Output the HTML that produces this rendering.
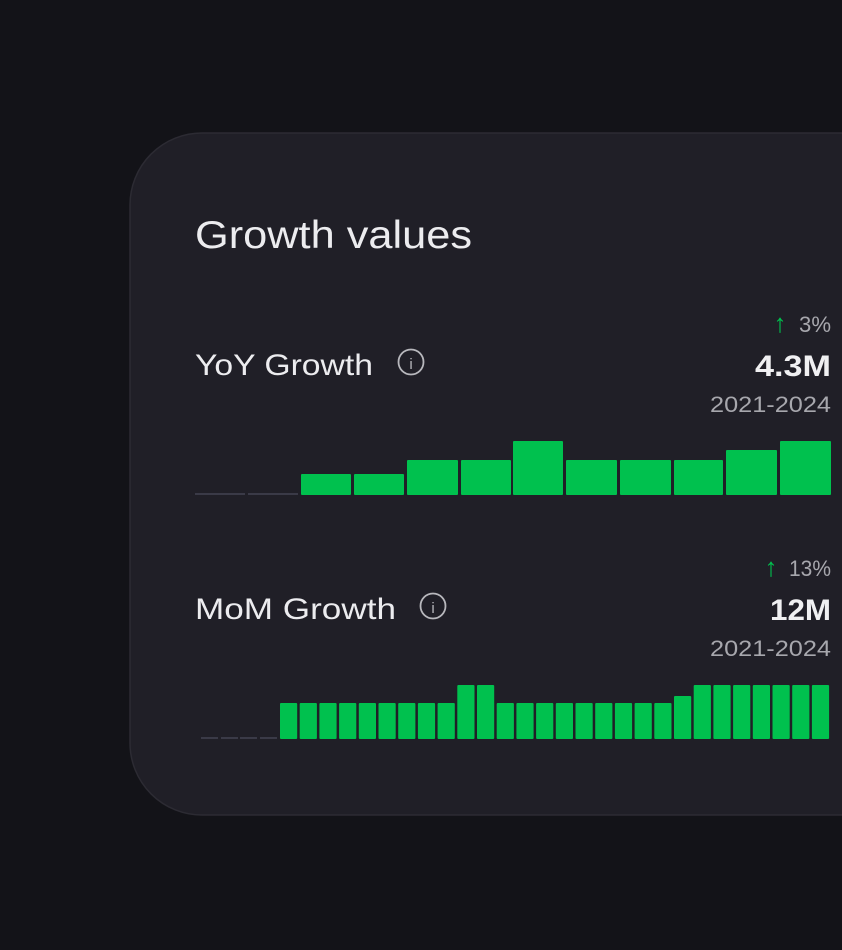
<!DOCTYPE html>
<html><head><style>
html,body{margin:0;padding:0;background:#131318;}
svg{display:block;}
text{font-family:"Liberation Sans",sans-serif;}
</style></head><body>
<svg width="842" height="950" viewBox="0 0 842 950" xmlns="http://www.w3.org/2000/svg">
<rect width="842" height="950" fill="#131318"/>
<rect x="130" y="133" width="800" height="682" rx="72" fill="#201f27" stroke="#2c2b33" stroke-width="1.5"/>
<text x="195" y="248" font-size="39" fill="#ececef" textLength="277" lengthAdjust="spacingAndGlyphs">Growth values</text>

<text x="195" y="375" font-size="30" fill="#ececef" textLength="178" lengthAdjust="spacingAndGlyphs">YoY Growth</text>
<circle cx="411" cy="362" r="12.5" fill="none" stroke="#b8b8bd" stroke-width="1.8"/>
<text x="411" y="369" font-size="15" fill="#b8b8bd" text-anchor="middle" font-family="Liberation Serif">i</text>
<text x="799" y="332" font-size="22" fill="#a7a7ad" textLength="32" lengthAdjust="spacingAndGlyphs">3%</text>
<text x="780" y="332" font-size="26" fill="#00c14e" text-anchor="middle">↑</text>
<text x="755" y="376" font-size="30" font-weight="bold" fill="#f0f0f2" textLength="76" lengthAdjust="spacingAndGlyphs">4.3M</text>
<text x="710" y="412" font-size="22" fill="#a7a7ad" textLength="121" lengthAdjust="spacingAndGlyphs">2021-2024</text>
<g fill="#3a3a47"><rect x="195" y="493" width="50" height="2"/><rect x="248" y="493" width="50" height="2"/></g>
<g fill="#00c14e">
<rect x="301" y="474" width="50" height="21" rx="1"/>
<rect x="354" y="474" width="50" height="21" rx="1"/>
<rect x="407" y="460" width="51" height="35" rx="1"/>
<rect x="461" y="460" width="50" height="35" rx="1"/>
<rect x="513" y="441" width="50" height="54" rx="1"/>
<rect x="566" y="460" width="51" height="35" rx="1"/>
<rect x="620" y="460" width="51" height="35" rx="1"/>
<rect x="674" y="460" width="49" height="35" rx="1"/>
<rect x="726" y="450" width="51" height="45" rx="1"/>
<rect x="780" y="441" width="51" height="54" rx="1"/>
</g>

<text x="195" y="619" font-size="30" fill="#ececef" textLength="201" lengthAdjust="spacingAndGlyphs">MoM Growth</text>
<circle cx="433" cy="606" r="12.5" fill="none" stroke="#b8b8bd" stroke-width="1.8"/>
<text x="433" y="613" font-size="15" fill="#b8b8bd" text-anchor="middle" font-family="Liberation Serif">i</text>
<text x="789" y="576" font-size="22" fill="#a7a7ad" textLength="42" lengthAdjust="spacingAndGlyphs">13%</text>
<text x="771" y="576" font-size="26" fill="#00c14e" text-anchor="middle">↑</text>
<text x="770" y="620" font-size="30" font-weight="bold" fill="#f0f0f2" textLength="61" lengthAdjust="spacingAndGlyphs">12M</text>
<text x="710" y="656" font-size="22" fill="#a7a7ad" textLength="121" lengthAdjust="spacingAndGlyphs">2021-2024</text>
<g fill="#3a3a47">
<rect x="201" y="737" width="17" height="2"/><rect x="221" y="737" width="17" height="2"/><rect x="240" y="737" width="17" height="2"/><rect x="260" y="737" width="17" height="2"/>
</g>
<g fill="#00c14e" id="mom"></g>
</svg>
<script>
var g=document.getElementById('mom');
for(var i=0;i<28;i++){
 var t=703;if(i==9||i==10||i>=21)t=685;if(i==20)t=696;
 var r=document.createElementNS('http://www.w3.org/2000/svg','rect');
 var x=280+i*19.7;
 r.setAttribute('x',x.toFixed(1));r.setAttribute('y',t);
 r.setAttribute('width','17.2');r.setAttribute('height',739-t);r.setAttribute('rx','1');
 g.appendChild(r);
}
</script>
</body></html>
